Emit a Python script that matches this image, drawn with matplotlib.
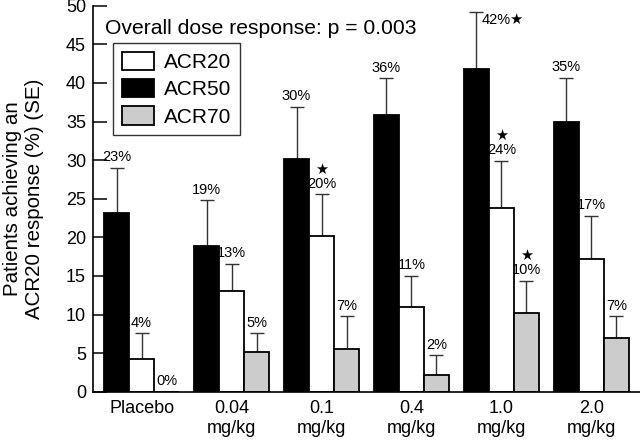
import matplotlib
matplotlib.use("Agg")
import matplotlib.pyplot as plt
import numpy as np
from matplotlib.patches import Patch

plt.rcParams['font.family'] = ['Liberation Sans', 'DejaVu Sans']

groups = ["Placebo", "0.04\nmg/kg", "0.1\nmg/kg", "0.4\nmg/kg", "1.0\nmg/kg", "2.0\nmg/kg"]

# black bars (legend: ACR50), white bars (legend: ACR20), grey bars (legend: ACR70)
black_vals = [23.1, 18.9, 30.2, 35.8, 41.8, 35.0]
black_err = [5.9, 5.9, 6.7, 4.8, 7.4, 5.7]
black_lbl = ["23%", "19%", "30%", "36%", "42%★", "35%"]

white_vals = [4.2, 13.0, 20.2, 11.0, 23.8, 17.2]
white_err = [3.4, 3.6, 5.4, 4.0, 6.1, 5.6]
white_lbl = ["4%", "13%", "★\n20%", "11%", "★\n24%", "17%"]

grey_vals = [0.0, 5.1, 5.5, 2.1, 10.2, 7.0]
grey_err = [0.0, 2.5, 4.3, 2.6, 4.2, 2.8]
grey_lbl = ["0%", "5%", "7%", "2%", "★\n10%", "7%"]

legend_labels = ["ACR20", "ACR50", "ACR70"]
grey_col = "#cccccc"

fig = plt.figure(figsize=(6.4, 4.41), dpi=100)
ax = fig.add_axes([0.1453, 0.1118, 0.8547, 0.8752])
ax.set_axisbelow(True)

x = np.arange(len(groups))
w = 0.278

series = [
    (x - w, black_vals, black_err, black_lbl, "black"),
    (x, white_vals, white_err, white_lbl, "white"),
    (x + w, grey_vals, grey_err, grey_lbl, grey_col),
]

for xs, vals, errs, lbls, col in series:
    ax.bar(xs, vals, width=w, color=col, edgecolor="black", linewidth=1.3, zorder=2)
    for xi, v, e, lb in zip(xs, vals, errs, lbls):
        if e > 0:
            ax.errorbar(xi, v, yerr=[[0], [e]], fmt="none", ecolor="#333333",
                        elinewidth=1.0, capsize=4.7, capthick=1.0, zorder=1.5)
        top = v + e
        if lb.endswith("★"):
            ax.annotate(lb, (xi, top), xytext=(4, -1), textcoords="offset points",
                        ha="left", va="top", fontsize=10.5)
        else:
            ax.annotate(lb, (xi, top), xytext=(0, 2.5), textcoords="offset points",
                        ha="center", va="bottom", fontsize=10.5, linespacing=1.0,
                        multialignment="center")

ax.set_xlim(-0.54, 5.54)
ax.set_ylim(0, 50)
ax.set_yticks(np.arange(0, 51, 5))
ax.set_xticks(x)
ax.set_xticklabels(groups, fontsize=13, linespacing=1.2)
ax.tick_params(axis="x", length=0, pad=6)
ax.tick_params(axis="y", direction="in", length=10, width=1.1, labelsize=13, pad=5)

for s in ["top", "right"]:
    ax.spines[s].set_visible(False)
for s in ["left", "bottom"]:
    ax.spines[s].set_linewidth(1.2)

fig.text(0.037, 0.55, "Patients achieving an\nACR20 response (%) (SE)", fontsize=14.8,
         linespacing=1.22, rotation=90, ha="center", va="center",
         multialignment="center")

ax.text(0.022, 0.942, "Overall dose response: p = 0.003", transform=ax.transAxes,
        fontsize=15.2, ha="left", va="center")

handles = [Patch(facecolor="white", edgecolor="black", linewidth=1.3),
           Patch(facecolor="black", edgecolor="black", linewidth=1.3),
           Patch(facecolor=grey_col, edgecolor="black", linewidth=1.3)]
leg = ax.legend(handles, legend_labels, loc="upper left", bbox_to_anchor=(0.037, 0.903),
                borderaxespad=0, fontsize=15, frameon=True, fancybox=False,
                handlelength=1.55, handleheight=1.0, handletextpad=0.5,
                labelspacing=0.33, borderpad=0.4)
leg.get_frame().set_edgecolor("black")
leg.get_frame().set_linewidth(1.0)

fig.savefig("out.png", dpi=100)
